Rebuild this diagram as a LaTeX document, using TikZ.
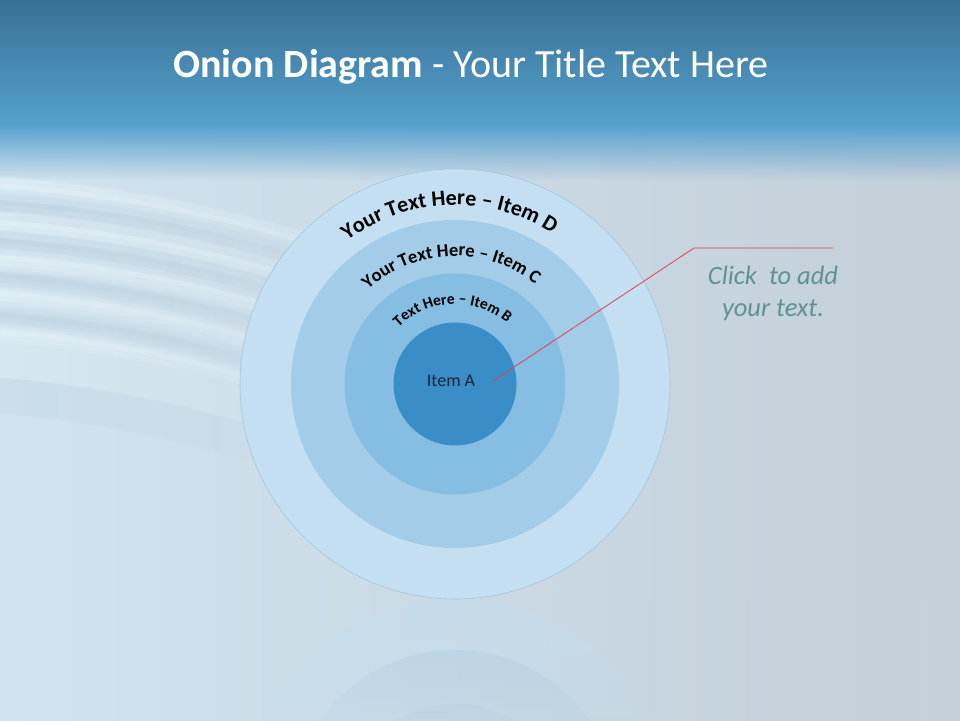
\documentclass[tikz,border=0pt]{standalone}
\usepackage{fontspec}
\setmainfont{Carlito}
\usetikzlibrary{decorations.text,fadings}
\definecolor{topA}{HTML}{376F92}
\definecolor{topB}{HTML}{55A0CE}
\definecolor{bgL}{HTML}{D0E3EF}
\definecolor{bgR}{HTML}{C3CFD9}
\definecolor{ripL}{HTML}{EAF6FB}
\definecolor{ripD}{HTML}{B4C8D6}
\definecolor{cD}{HTML}{C3DFF1}
\definecolor{cDedge}{HTML}{A3C6DE}
\definecolor{cC}{HTML}{A3CCE8}
\definecolor{cB}{HTML}{86BDE2}
\definecolor{cA}{HTML}{3A8DC7}
\definecolor{clickcol}{HTML}{5F9293}
\definecolor{redline}{HTML}{E2404C}
\definecolor{itemAcol}{HTML}{15253A}
\newcommand\fontD{\fontsize{22}{26}\selectfont\bfseries}
\newcommand\fontC{\fontsize{18.5}{22}\selectfont\bfseries}
\newcommand\fontB{\fontsize{15.5}{18}\selectfont\bfseries}
\tikzset{
  ring/.style={circle, inner sep=0pt, outer sep=0pt},
  arctext/.style={decorate, decoration={text along path, text align=center, text={#1}}},
  callout/.style={redline, line width=0.8pt},
  clicktext/.style={text=clickcol, font=\fontsize{26.5}{32}\selectfont\itshape, anchor=base, inner sep=0pt},
}
\newcommand\softband[3]{% radius, colour, opacity
  \draw[#2, line width=18pt, opacity=#3*0.35, path fading=east] (rc) ++(96:#1) arc[start angle=96, end angle=62, radius=#1];
  \draw[#2, line width=11pt, opacity=#3*0.45, path fading=east] (rc) ++(96:#1) arc[start angle=96, end angle=62, radius=#1];
  \draw[#2, line width=5pt, opacity=#3*0.5, path fading=east] (rc) ++(96:#1) arc[start angle=96, end angle=62, radius=#1];
}
\begin{document}
\begin{tikzpicture}[x=1pt,y=1pt]
\useasboundingbox (0,0) rectangle (960,720);
% lower background
\shade[left color=bgL, right color=bgR] (-5,-5) rectangle (965,600);
% ripples
\begin{scope}
\clip (0,0) rectangle (960,590);
\coordinate (rc) at (-100,-880);
\foreach \r in {1423,1384,1347,1311,1273}{ \softband{\r}{ripL}{0.9} }
\foreach \r in {1404,1365,1329,1292}{ \softband{\r}{ripD}{0.55} }
\draw[ripL, line width=40pt, opacity=0.35, path fading=east] (rc) ++(96:1248) arc[start angle=96, end angle=62, radius=1248];
\draw[ripD, line width=36pt, opacity=0.25, path fading=east] (rc) ++(96:1210) arc[start angle=96, end angle=62, radius=1210];
\end{scope}
% top band
\shade[top color=topA, bottom color=topB] (-5,595) rectangle (965,725);
\fill[topB, path fading=south] (-5,540) rectangle (965,596);
% reflection
\begin{scope}
\clip (0,0) rectangle (960,121);
\begin{scope}[transparency group, opacity=0.45]
\fill[cD] (455,-94) circle[radius=215];
\fill[cC] (455,-94) circle[radius=164];
\fill[cB] (455,-94) circle[radius=110.5];
\fill[cA] (455,-94) circle[radius=61.5];
\end{scope}
\shade[left color=bgL, right color=bgR, path fading=north] (-5,-40) rectangle (965,121);
\end{scope}
% title
\node[anchor=base, text=white, font=\fontsize{40}{44}\selectfont, inner sep=0pt] (title) at (471,642) {\textbf{Onion Diagram} - Your Title Text Here};
% onion
\node[ring, minimum size=430pt, fill=cD, draw=cDedge, line width=0.6pt] (D) at (455,336) {};
\node[ring, minimum size=328pt, fill=cC] (C) at (455,336) {};
\node[ring, minimum size=221pt, fill=cB] (B) at (455,336) {};
\node[ring, minimum size=123pt, fill=cA] (A) at (455,336) {};
\node[text=itemAcol, font=\fontsize{18}{20}\selectfont, anchor=base] (Alab) at (451,333) {Item A};
% curved texts
\path[arctext={|\fontD|Your Text Here – Item D}] (D.center) ++(168:179) arc[start angle=168, end angle=16, radius=179];
\path[arctext={|\fontC|Your Text Here – Item C}] (D.center) ++(175:128) arc[start angle=175, end angle=9, radius=128];
\path[arctext={|\fontB|Text Here – Item B}] (D.center) ++(178:80) arc[start angle=178, end angle=6, radius=80];
% callout
\coordinate (pA) at (493,339);
\coordinate (elbow) at (694,472);
\coordinate (lend) at (833,472);
\draw[callout] (pA) -- (elbow) -- (lend);
\node[clicktext] (click1) at (773,435) {Click~ to add};
\node[clicktext] (click2) at (773,403) {your text.};
\end{tikzpicture}
\end{document}
